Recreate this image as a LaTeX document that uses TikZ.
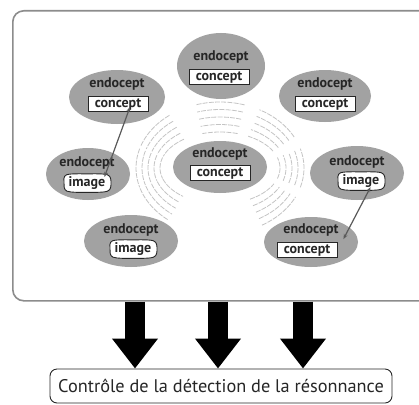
\documentclass[tikz,border=0pt]{standalone}
\usepackage{fontspec}
\setmainfont{PT Sans}
\usetikzlibrary{arrows.meta,calc,shapes.geometric}

\definecolor{endogray}{HTML}{A2A2A2}
\definecolor{framegray}{HTML}{8C8C8C}
\definecolor{wavegray}{HTML}{C4C4C4}
\definecolor{inkgray}{HTML}{262626}
\definecolor{linkgray}{HTML}{5A5A5A}

% irregular outline drawn round an image label
\newcommand{\imageblob}[1]{%
  \draw[blob] plot[smooth cycle, tension=0.55] coordinates {
    ([xshift=-1.5pt]#1.west) ([xshift=1pt]#1.north west) ([yshift=1pt]#1.north)
    ([xshift=-1pt]#1.north east) ([xshift=2.5pt]#1.east) ([xshift=-1pt]#1.south east)
    ([yshift=-1.2pt]#1.south) ([xshift=1.5pt]#1.south west)};}

\begin{document}
\begin{tikzpicture}[x=1pt,y=-1pt,
  panel/.style={draw=framegray, line width=1.6pt, rounded corners=11pt, fill=white,
    minimum width=440pt, minimum height=290pt, anchor=north west, inner sep=0pt},
  endo/.style={ellipse, fill=endogray, inner sep=0pt},
  endolbl/.style={font=\bfseries\fontsize{14}{15}\selectfont, text=inkgray, inner sep=0pt},
  conceptbox/.style={draw=inkgray, fill=white, line width=0.9pt, inner sep=0pt,
    minimum width=60pt, minimum height=15pt, font=\bfseries\fontsize{14}{15}\selectfont, text=inkgray},
  imagefit/.style={inner xsep=3pt, inner ysep=1.5pt, font=\bfseries\fontsize{14}{15}\selectfont, text=inkgray},
  blob/.style={draw=inkgray, fill=white, line width=0.9pt},
  wave/.style={draw=wavegray, line width=0.8pt, dash pattern=on 5pt off 1.2pt},
  link/.style={draw=linkgray, line width=1.2pt, {Stealth[length=5pt,width=4pt]}-{Stealth[length=5pt,width=4pt]}},
  bigarrow/.style={draw=black, line width=20pt, -{Triangle[length=30pt,width=44pt]}},
  ctlbox/.style={draw=inkgray, line width=0.9pt, rounded corners=7pt, minimum height=34pt,
    minimum width=342pt, inner sep=0pt, font=\fontsize{18.3}{20}\selectfont, text=inkgray}
]
\useasboundingbox (0,0) rectangle (419,404);

% framing panel
\node[panel] (panel) at (12,10) {};

% resonance waves: seven groups of concentric arcs round the central endocept
\foreach \th in {0,45,90,144,180,215,317}{
  \foreach \k in {0,...,4}{
    \pgfmathsetmacro{\rx}{60+6*\k}
    \pgfmathsetmacro{\ry}{36+7.5*\k}
    \draw[wave] plot[smooth, domain=\th-17:\th+17, samples=10]
      ({220+\rx*cos(\x)}, {168-\ry*sin(\x)});
  }
}

% endocepts
\node[endo, minimum width=88pt, minimum height=66pt] (e0) at (221,66) {};
\node[endolbl] at (221,57) {endocept};
\node[conceptbox] (c0) at (219,77) {concept};

\node[endo, minimum width=96pt, minimum height=54pt] (e1) at (117,97) {};
\node[endolbl] at (117,84) {endocept};
\node[conceptbox] (c1) at (118,104) {concept};

\node[endo, minimum width=92pt, minimum height=52pt] (e2) at (325,96) {};
\node[endolbl] at (325,84) {endocept};
\node[conceptbox] (c2) at (325,104) {concept};

\node[endo, minimum width=84pt, minimum height=52pt] (e3) at (88,174) {};
\node[endolbl] at (87,163) {endocept};
\path node[imagefit] (i3) at (87,183) {\phantom{image}};
\imageblob{i3}
\node[imagefit] at (i3) {image};

\node[endo, minimum width=94pt, minimum height=52pt] (e4) at (220,167) {};
\node[endolbl] at (220,154) {endocept};
\node[conceptbox] (c4) at (220,173) {concept};

\node[endo, minimum width=94pt, minimum height=54pt] (e5) at (357,173) {};
\node[endolbl] at (357,162) {endocept};
\path node[imagefit] (i5) at (361,181) {\phantom{image}};
\imageblob{i5}
\node[imagefit] at (i5) {image};

\node[endo, minimum width=94pt, minimum height=52pt] (e6) at (131,241) {};
\node[endolbl] at (131,230) {endocept};
\path node[imagefit] (i6) at (133,249) {\phantom{image}};
\imageblob{i6}
\node[imagefit] at (i6) {image};

\node[endo, minimum width=94pt, minimum height=50pt] (e7) at (311,242) {};
\node[endolbl] at (311,230) {endocept};
\node[conceptbox] (c7) at (307,250) {concept};

% links between concepts and images
\draw[link] ([xshift=12pt,yshift=-3pt]c1.center) -- ([xshift=-4pt,yshift=-2pt]i3.north east);
\draw[link] ([xshift=-12pt,yshift=2pt]i5.south east) -- ([xshift=6pt,yshift=3pt]c7.north east);

% detection control
\node[ctlbox] (ctl) at (221,386) {Contrôle de la détection de la résonnance};
\foreach \xx/\nm in {135/a,218/b,303/c}{
  \draw[bigarrow] (panel.south -| \xx,0) -- (ctl.north -| \xx,0);
}
\end{tikzpicture}
\end{document}
